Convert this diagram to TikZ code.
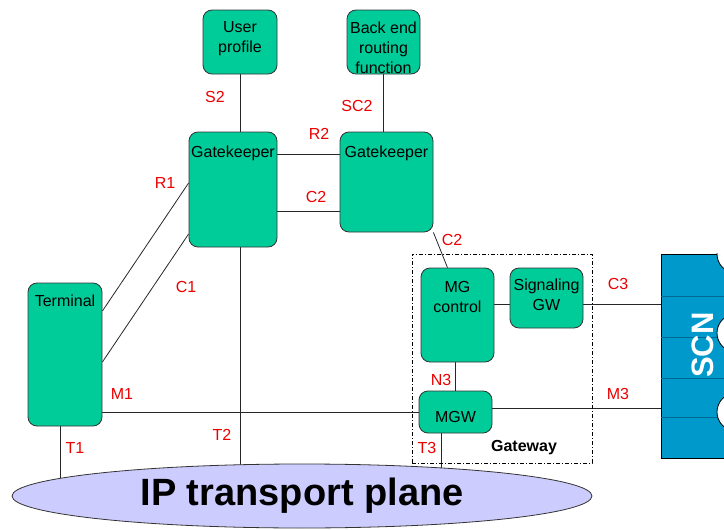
\documentclass[tikz,border=0pt]{standalone}
\usepackage{fontspec}
\setmainfont{Liberation Sans}
\usetikzlibrary{shapes.geometric, backgrounds, calc}
\definecolor{gkgreen}{RGB}{0,204,153}
\definecolor{ipblue}{RGB}{204,204,255}
\definecolor{scnblue}{RGB}{0,153,204}
\definecolor{scnline}{RGB}{0,105,145}
\definecolor{ifcred}{RGB}{235,0,0}
\newcommand{\nodefont}{\fontsize{16}{20}\selectfont}

\begin{document}
\begin{tikzpicture}[x=1pt,y=-1pt,
   box/.style={draw=black!80,line width=0.8pt,fill=gkgreen,rounded corners=9pt,inner sep=0pt},
   title/.style={anchor=north,align=center,inner sep=0pt,font=\nodefont},
   ifc/.style={text=ifcred,font=\nodefont,inner sep=1pt},
   link/.style={line width=0.8pt,black!85}]
  \useasboundingbox (0,0) rectangle (724,530);
  % functional entities
  \node[box,minimum width=74pt,minimum height=64pt,
        label={[title,yshift=-12pt]north:User\\profile}] (up) at (240,42) {};
  \node[box,minimum width=73pt,minimum height=64pt,
        label={[title,yshift=-12pt]north:Back end\\routing\\function}] (be) at (383.5,42) {};
  \node[box,minimum width=88pt,minimum height=115pt,
        label={[title,yshift=-14pt]north:Gatekeeper}] (gk1) at (233,189.5) {};
  \node[box,minimum width=93pt,minimum height=100pt,
        label={[title,yshift=-14pt]north:Gatekeeper}] (gk2) at (386.5,182) {};
  \node[box,minimum width=74pt,minimum height=143pt,
        label={[title,yshift=-12pt]north:Terminal}] (term) at (65,354.5) {};
  \node[box,minimum width=73pt,minimum height=94pt,
        label={[title,yshift=-14pt]north:MG\\control}] (mgc) at (457.5,315) {};
  \node[box,minimum width=73pt,minimum height=60pt,
        label={[title,yshift=-11pt]north:Signaling\\GW}] (sgw) at (546.5,298) {};
  \node[box,minimum width=73pt,minimum height=42pt,
        label={[title,yshift=-21pt]north:MGW}] (mgw) at (455.5,412) {};
  % gateway frame
  \node[draw=black,line width=0.7pt,dash pattern=on 4pt off 2pt on 1pt off 2pt,
        minimum width=180pt,minimum height=209pt,inner sep=0pt] (gw) at (502,358.5) {};
  \node[font=\bfseries\nodefont] (gwlbl) at (524,448) {Gateway};
  % transport plane
  \node[ellipse,draw=black!80,line width=0.8pt,fill=ipblue,minimum width=580pt,
        minimum height=64pt,inner sep=0pt,font=\bfseries\fontsize{38}{38}\selectfont]
        (ip) at (302,496) {IP transport plane};
  % SCN
  \node[draw=black,line width=0.8pt,fill=scnblue,minimum width=69pt,
        minimum height=204pt,inner sep=0pt] (scn) at (695.5,356) {};
  \begin{scope}
    \clip (scn.north west) rectangle (scn.south east);
    \foreach \y in {296,337,378,417}
      \draw[scnline,line width=0.8pt] (scn.west |- 0,\y) -- (scn.east |- 0,\y);
    \foreach \y in {254,333,412}
      \draw[black,line width=0.8pt,fill=white] (736,\y) circle (19);
  \end{scope}
  \node[text=white,font=\bfseries\fontsize{31}{31}\selectfont,rotate=90] (scnlbl) at (703,345) {SCN};
  % interfaces
  \begin{pgfonlayer}{background}
    \draw[link] (up.south) -- (up.south |- gk1.north);
    \draw[link] (be.south) -- (be.south |- gk2.north);
    \draw[link] (gk1.east |- 0,154) -- (gk2.west |- 0,154);
    \draw[link] (gk1.east |- 0,211) -- (gk2.west |- 0,211);
    \draw[link] (gk2.south east) -- ($(mgc.north)+(-10,0)$);
    \draw[link] (term.east |- 0,311) -- (gk1.west |- 0,183);
    \draw[link] (term.east |- 0,362) -- (gk1.west |- 0,234);
    \draw[link] (term.east |- 0,412) -- (mgw.west |- 0,412);
    \draw[link] (mgc.east |- 0,304) -- (sgw.west |- 0,304);
    \draw[link] (sgw.east |- 0,304) -- (scn.west |- 0,304);
    \draw[link] (mgw.east |- 0,408) -- (scn.west |- 0,408);
    \draw[link] (mgw.north) -- (mgw.north |- mgc.south);
    \draw[link] (60,0 |- term.south) -- (60,0 |- ip.center);
    \draw[link] (up.south |- gk1.south) -- (up.south |- ip.center);
    \draw[link] (441,0 |- mgw.south) -- (441,0 |- ip.center);
  \end{pgfonlayer}
  % interface names
  \node[ifc] (lS2) at (215,97) {S2};
  \node[ifc] (lSC2) at (357,106) {SC2};
  \node[ifc] (lR2) at (319,134) {R2};
  \node[ifc] (lC2a) at (316,197) {C2};
  \node[ifc] (lC2b) at (452,240) {C2};
  \node[ifc] (lR1) at (165,183) {R1};
  \node[ifc] (lC1) at (186,287) {C1};
  \node[ifc] (lM1) at (122,394) {M1};
  \node[ifc] (lT2) at (222,435) {T2};
  \node[ifc] (lT1) at (75,448) {T1};
  \node[ifc] (lN3) at (441,380) {N3};
  \node[ifc] (lT3) at (427,448) {T3};
  \node[ifc] (lC3) at (618,284) {C3};
  \node[ifc] (lM3) at (618,394) {M3};
\end{tikzpicture}
\end{document}
